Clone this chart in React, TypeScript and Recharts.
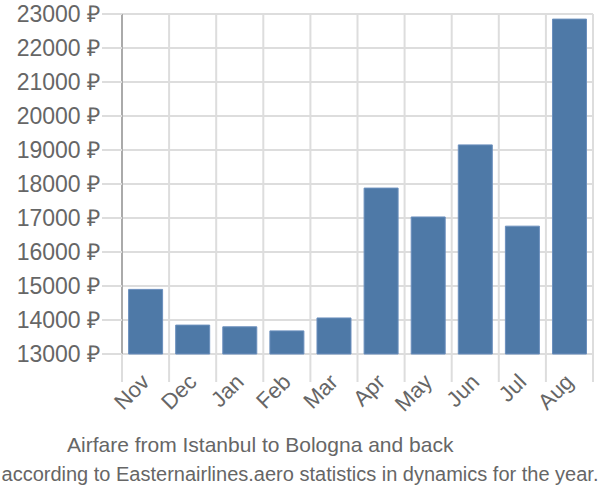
import React from 'react';
import { BarChart, Bar, XAxis, YAxis, CartesianGrid } from 'recharts';

const months = ['Nov', 'Dec', 'Jan', 'Feb', 'Mar', 'Apr', 'May', 'Jun', 'Jul', 'Aug'];
const prices = [14900, 13850, 13800, 13680, 14060, 17880, 17030, 19150, 16760, 22850];
const yTicks = [13000, 14000, 15000, 16000, 17000, 18000, 19000, 20000, 21000, 22000, 23000];

const data = months.map((m, i) => ({ month: m, price: prices[i] }));

const W = 600;
const H = 500;
const M = { top: 14, right: 7, left: 0, bottom: 0 };
const Y_W = 122;
const PLOT_W = W - M.left - M.right - Y_W;
const STEP = PLOT_W / months.length;

const MonthTick = (props: any) => {
    const { x, y, payload, index } = props;
    const left = x - STEP / 2;
    const tx = x;
    const ty = y + 16;
    return (
        <g>
            <line x1={left} y1={y - 8} x2={left} y2={y + 20} stroke="#ddd" strokeWidth={2} />
            {index === months.length - 1 && (
                <line x1={x + STEP / 2} y1={y - 8} x2={x + STEP / 2} y2={y + 20} stroke="#ddd" strokeWidth={2} />
            )}
            <text
                x={tx}
                y={ty}
                textAnchor="end"
                dominantBaseline="central"
                transform={`rotate(-45, ${tx}, ${ty})`}
                fill="#666"
                fontSize={22}
                fontFamily="'Liberation Sans', Arial, sans-serif"
            >
                {payload.value}
            </text>
        </g>
    );
};

const App = () => {
    return (
        <div style={{ position: 'absolute', left: 0, top: 0, width: W, height: H, background: '#fff' }}>
            <BarChart width={W} height={H} data={data} margin={M} barCategoryGap="14%">
                <CartesianGrid
                    stroke="#ddd"
                    strokeWidth={2}
                    verticalCoordinatesGenerator={({ offset }: any) =>
                        months.map((_, i) => offset.left + i * (offset.width / months.length)).concat([offset.left + offset.width])
                    }
                />
                <YAxis
                    width={Y_W}
                    domain={[13000, 23000]}
                    ticks={yTicks}
                    interval={0}
                    tickFormatter={(v: number) => `${v} ₽`}
                    tickSize={20}
                    tickLine={{ stroke: '#ddd', strokeWidth: 2 }}
                    axisLine={{ stroke: '#aaa', strokeWidth: 2 }}
                    tick={{ fill: '#666', fontSize: 23, fontFamily: "'Liberation Sans', Arial, sans-serif" }}
                    tickMargin={2}
                />
                <XAxis
                    dataKey="month"
                    height={146}
                    interval={0}
                    axisLine={false}
                    tickLine={false}
                    tick={<MonthTick />}
                />
                <Bar dataKey="price" fill="#4e79a7" stroke="#6b8fbd" strokeWidth={1} isAnimationActive={false} />
            </BarChart>
            <div
                style={{
                    position: 'absolute',
                    left: 67,
                    top: 433,
                    color: '#666',
                    fontFamily: "'Liberation Sans', Arial, sans-serif",
                    fontSize: 21,
                    whiteSpace: 'nowrap',
                }}
            >
                Airfare from Istanbul to Bologna and back
            </div>
            <div
                style={{
                    position: 'absolute',
                    left: 0,
                    width: W,
                    top: 463,
                    textAlign: 'center',
                    color: '#666',
                    fontFamily: "'Liberation Sans Narrow', 'Liberation Sans', Arial, sans-serif",
                    fontSize: 20,
                    whiteSpace: 'nowrap',
                }}
            >
                according to Easternairlines.aero statistics in dynamics for the year.
            </div>
        </div>
    );
};

export default App;
